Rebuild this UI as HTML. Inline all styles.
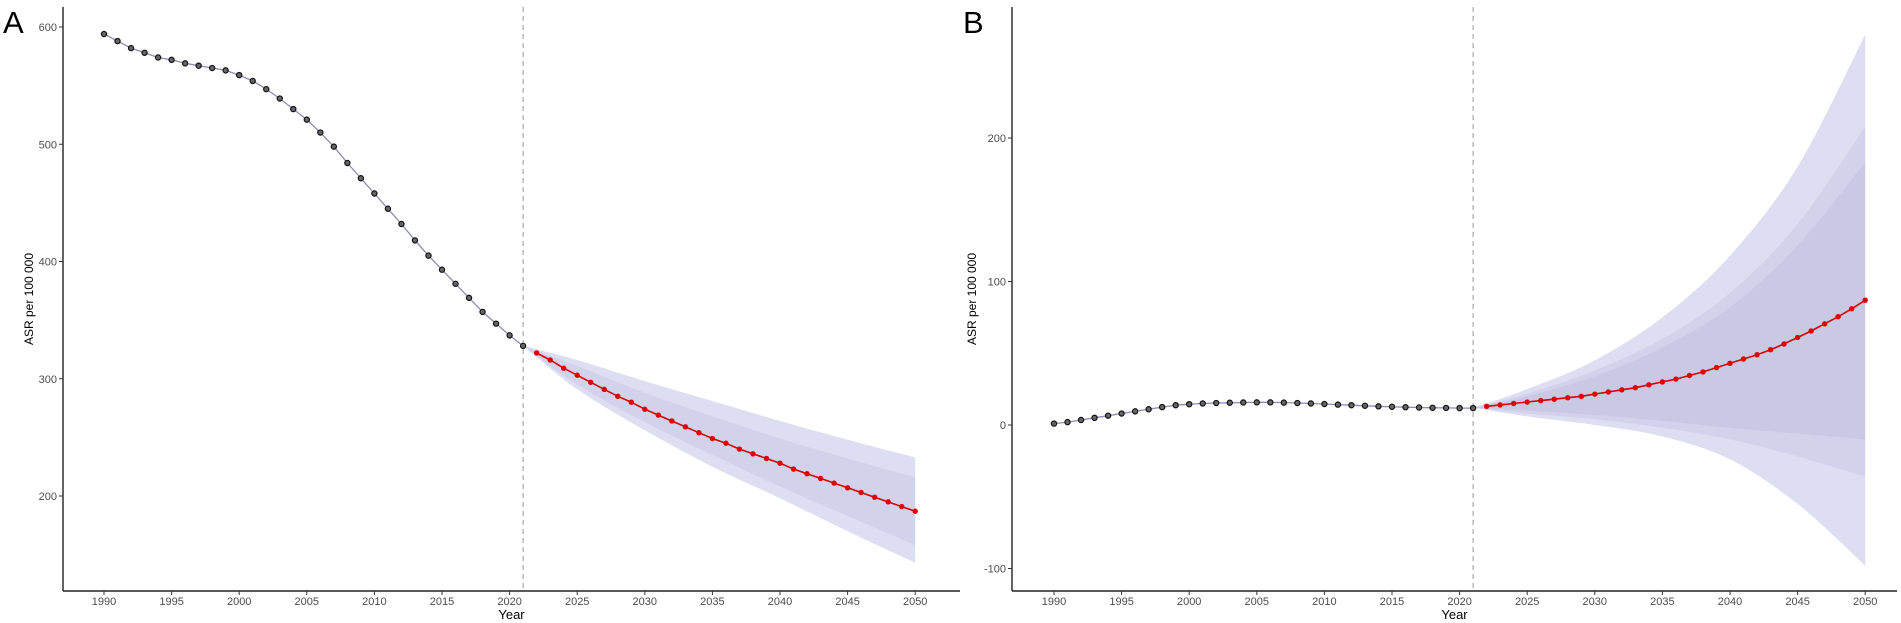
<!DOCTYPE html>
<html><head><meta charset="utf-8"><style>
html,body{margin:0;padding:0;background:#fff;}
svg{display:block;font-family:"Liberation Sans",Arial,sans-serif;}
</style></head><body>
<svg id="chart" width="1901" height="623" viewBox="0 0 1901 623">
<text x="3" y="33" font-size="31" fill="#000">A</text>
<text x="963" y="33" font-size="31" fill="#000">B</text>
</svg>
<script>
// ---- Data ----
const histYears = [1990,1991,1992,1993,1994,1995,1996,1997,1998,1999,2000,2001,2002,2003,2004,2005,2006,2007,2008,2009,2010,2011,2012,2013,2014,2015,2016,2017,2018,2019,2020,2021];
const foreYears = [2022,2023,2024,2025,2026,2027,2028,2029,2030,2031,2032,2033,2034,2035,2036,2037,2038,2039,2040,2041,2042,2043,2044,2045,2046,2047,2048,2049,2050];
const bandYears = [2021,2025,2030,2035,2040,2045,2050];
const xTicks = [1990,1995,2000,2005,2010,2015,2020,2025,2030,2035,2040,2045,2050];

const aHist = [594,588,582,578,574,572,569,567,565,563,559,554,547,539,530,521,510,498,484,471,458,445,432,418,405,393,381,369,357,347,337,328];
const aFore = [322,316,309,303,297,291,285,280,274,269,264,259,254,249,245,240,236,232,228,223,219,215,211,207,203,199,195,191,187];
const aOuterUp = [328,316,298,281,264,248,233];
const aOuterLo = [328,291,256,225,198,170,143];
const aInnerUp = [328,311,288,268,249,232,216];
const aInnerLo = [328,295,263,235,208,183,158];
const aYTicks = [200,300,400,500,600];

const bHist = [1,2,3.5,5,6.5,8,9.5,11,12.5,13.8,14.5,15,15.3,15.5,15.7,15.8,15.8,15.6,15.3,15,14.6,14.2,13.8,13.4,13,12.7,12.4,12.2,12,11.9,11.8,11.8];
const bFore = [13,14,15,16,17,18,19,20,21.5,23,24.5,26,28,30,32,34.5,37,40,43,46,49,52.5,56.5,61,65.5,70.5,75.5,81,87];
const bOuterUp = [12,25,45,75,118,180,272];
const bOuterLo = [12,6,0,-8,-24,-55,-98];
const bMidUp = [12,22,38,60,92,140,208];
const bMidLo = [12,8,4,-2,-10,-22,-36];
const bInnerUp = [12,20,34,54,82,125,183];
const bInnerLo = [12,10,7,3,-2,-6,-10];
const bYTicks = [-100,0,100,200];

const NS = "http://www.w3.org/2000/svg";
const svg = document.getElementById('chart');
function mk(tag, attrs, parent){const e=document.createElementNS(NS,tag);for(const k in attrs)e.setAttribute(k,attrs[k]);(parent||svg).appendChild(e);return e;}
function smooth(pts, start){
  let d = start ? 'M'+pts[0][0].toFixed(1)+','+pts[0][1].toFixed(1) : 'L'+pts[0][0].toFixed(1)+','+pts[0][1].toFixed(1);
  for(let i=0;i<pts.length-1;i++){
    const p0=pts[Math.max(0,i-1)],p1=pts[i],p2=pts[i+1],p3=pts[Math.min(pts.length-1,i+2)];
    const c1=[p1[0]+(p2[0]-p0[0])/6,p1[1]+(p2[1]-p0[1])/6];
    const c2=[p2[0]-(p3[0]-p1[0])/6,p2[1]-(p3[1]-p1[1])/6];
    d+='C'+c1[0].toFixed(1)+','+c1[1].toFixed(1)+' '+c2[0].toFixed(1)+','+c2[1].toFixed(1)+' '+p2[0].toFixed(1)+','+p2[1].toFixed(1);
  }
  return d;
}

function panel(cfg){
  const g = mk('g',{});
  
  
  const xS = y => cfg.x1990 + (y-1990)*13.52;
  const yS = v => cfg.y0 - (v - cfg.v0)*cfg.k;
  cfg.bands.forEach((b,bi)=>{
    const up = bandYears.map((yr,i)=>[xS(yr),yS(b[0][i])]);
    const lo = bandYears.map((yr,i)=>[xS(yr),yS(b[1][i])]).reverse();
    const d = smooth(up,true)+smooth(lo,false)+'Z';
    const p = mk('path',{d,fill:bi===0?'rgb(190,190,232)':'rgb(170,170,205)','fill-opacity':bi===0?'0.5':'0.22'},g);
    
    
  });
  const axY = mk('line',{x1:cfg.axX,y1:7,x2:cfg.axX,y2:591,stroke:'#222','stroke-width':1.4},g);
  
  
  const axX = mk('line',{x1:cfg.axX,y1:591,x2:cfg.axEnd,y2:591,stroke:'#222','stroke-width':1.4},g);
  
  
  cfg.yTicks.forEach(v=>{
    const yy=yS(v);
    mk('line',{x1:cfg.axX-4,y1:yy,x2:cfg.axX,y2:yy,stroke:'#333','stroke-width':1},g);
    const t=mk('text',{x:cfg.axX-6,y:yy+4,'font-size':11,'text-anchor':'end',fill:'#4d4d4d'},g);
    t.textContent=v;
    
    
  });
  xTicks.forEach(yr=>{
    const xx=xS(yr);
    mk('line',{x1:xx,y1:591,x2:xx,y2:595,stroke:'#333','stroke-width':1},g);
    const t=mk('text',{x:xx,y:605,'font-size':11,'text-anchor':'middle',fill:'#4d4d4d'},g);
    t.textContent=yr;
    
    
  });
  const xt=mk('text',{x:(cfg.axX+cfg.axEnd)/2,y:619,'font-size':13,'text-anchor':'middle',fill:'#000'},g);
  xt.textContent='Year';
  
  
  const yt=mk('text',{x:0,y:0,'font-size':12,'text-anchor':'middle',fill:'#000',transform:`translate(${cfg.titleX},299) rotate(-90)`},g);
  yt.textContent='ASR per 100 000';
  
  
  const dl=mk('line',{x1:xS(2021),y1:7,x2:xS(2021),y2:591,stroke:'#aaa','stroke-width':1.2,'stroke-dasharray':'5,4'},g);
  
  
  let d='';histYears.forEach((yr,i)=>{d+=(i?'L':'M')+xS(yr).toFixed(1)+','+yS(cfg.hist[i]).toFixed(1);});
  const hl=mk('path',{d,fill:'none',stroke:'#8c8cb8','stroke-width':1.3},g);
  
  
  histYears.forEach((yr,i)=>{
    const c=mk('circle',{cx:xS(yr),cy:yS(cfg.hist[i]),r:2.6,fill:'#666',stroke:'#111','stroke-width':1.2},g);
    
    
  });
  d='';foreYears.forEach((yr,i)=>{d+=(i?'L':'M')+xS(yr).toFixed(1)+','+yS(cfg.fore[i]).toFixed(1);});
  const fl=mk('path',{d,fill:'none',stroke:'#d40000','stroke-width':1.6},g);
  
  
  foreYears.forEach((yr,i)=>{
    const c=mk('circle',{cx:xS(yr),cy:yS(cfg.fore[i]),r:2.7,fill:'#e00000'},g);
    
    
  });
}

panel({id:'panel-a',x1990:104,axX:63,axEnd:960,titleX:33,y0:27,v0:600,k:1.1725,
  hist:aHist,fore:aFore,yTicks:aYTicks,bands:[[aOuterUp,aOuterLo],[aInnerUp,aInnerLo]]});
panel({id:'panel-b',x1990:1054,axX:1012,axEnd:1897,titleX:976,y0:425,v0:0,k:1.435,
  hist:bHist,fore:bFore,yTicks:bYTicks,bands:[[bOuterUp,bOuterLo],[bMidUp,bMidLo],[bInnerUp,bInnerLo]]});
</script>
</body></html>
